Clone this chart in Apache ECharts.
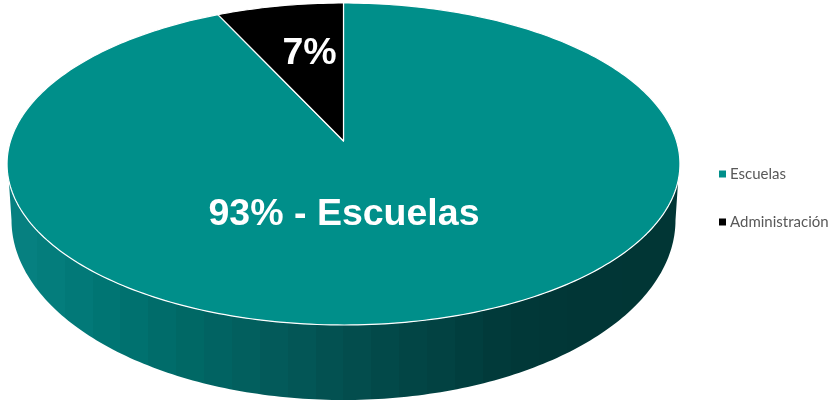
<!DOCTYPE html>
<html>
<head>
<meta charset="utf-8">
<style>html,body{margin:0;padding:0;background:#fff}#c{width:838px;height:404px}</style>
<script src="https://cdn.jsdelivr.net/npm/echarts@6/dist/echarts.min.js"></script>
</head>
<body>
<div id="c"></div>
<script>
const categories = ['Escuelas', 'Administración'];
const values = [93, 7];
const sliceLabels = ['93% - Escuelas', '7%'];
const sliceColors = ['#008F8A', '#000000'];
const wallKeyShades = ['#068080', '#007674', '#006966', '#035C5C', '#034F4F', '#024444', '#013939', '#013636', '#013635'];

const LABEL_SPOTS = [[344, 214.5], [309.5, 54]];
const TOP = {cx: 343.5, yTop: 3, yBottom: 325, yApex: 141, persp: 1 / 7, width: 333};
const BASE = {cx: 343.5, cy: 220, rx: 332, ry: 180};
const total = values.reduce((a, b) => a + b, 0);

function rimPoint(frac) {
  const t = frac * 2 * Math.PI, u = Math.sin(t), v = Math.cos(t);
  const a = (TOP.yTop * (1 + TOP.persp) - TOP.yApex);
  const w = 1 + TOP.persp * v;
  return [TOP.cx + TOP.width * u / w, (a * v + TOP.yApex) / w];
}
function topSlice(start, share) {
  const pts = [[TOP.cx, TOP.yApex]];
  const n = Math.max(12, Math.round(share * 360));
  for (let i = 0; i <= n; i++) pts.push(rimPoint(start + share * i / n));
  return pts;
}
function wallPoints() {
  const pts = [];
  const upper = 6 * Math.PI / 180;
  const yr = 161, xr = 336.5, yc = 164;
  for (let i = 0; i <= 180; i++) {
    const p = upper + (Math.PI - 2 * upper) * i / 180;
    pts.push([TOP.cx + xr * Math.cos(p), yc + yr * Math.sin(p)]);
  }
  for (let i = 180; i >= 0; i--) {
    const p = (Math.PI) * i / 180;
    pts.push([BASE.cx + BASE.rx * Math.cos(p), BASE.cy + BASE.ry * Math.sin(p)]);
  }
  return pts;
}
function hex(c){return [1,3,5].map(i=>parseInt(c.substr(i,2),16));}
function wallGradient() {
  const bands = 24, stops = [], k = wallKeyShades.length - 1;
  for (let b = 0; b < bands; b++) {
    const f = b / (bands - 1) * k, i = Math.min(Math.floor(f), k - 1), m = f - i;
    const A = hex(wallKeyShades[i]), B = hex(wallKeyShades[i + 1]);
    const col = 'rgb(' + A.map((x, j) => Math.round(x + (B[j] - x) * m)).join(',') + ')';
    stops.push({offset: b / bands, color: col}, {offset: (b + 1) / bands, color: col});
  }
  return new echarts.graphic.LinearGradient(0, 0, 1, 0, stops);
}
function renderSlice(idx) {
  return function (params, api) {
    const start = api.value(0) / total, share = api.value(1) / total;
    const children = [];
    if (idx === 0) {
      children.push({type: 'polygon', shape: {points: wallPoints()}, style: {fill: wallGradient(), stroke: null}, silent: true});
    }
    children.push({type: 'polygon', shape: {points: topSlice(start, share)},
      style: {fill: sliceColors[idx], stroke: '#ffffff', lineWidth: 1.2, lineJoin: 'round'}});
    children.push({type: 'text', x: LABEL_SPOTS[idx][0], y: LABEL_SPOTS[idx][1], z2: 10, silent: true,
      style: {text: sliceLabels[idx], fill: '#ffffff', font: 'bold 37.5px "Liberation Sans", Arial, sans-serif', align: 'center', verticalAlign: 'middle'}});
    return {type: 'group', children};
  };
}
let running = 0;
const series = categories.map((name, i) => {
  const s = {type: 'custom', name, coordinateSystem: 'none', renderItem: renderSlice(i),
    itemStyle: {color: sliceColors[i]}, animation: false,
    data: [{name, value: [running, values[i]]}]};
  running += values[i];
  return s;
});
const chart = echarts.init(document.getElementById('c'), null, {renderer: 'canvas'});
chart.setOption({
  animation: false,
  backgroundColor: '#ffffff',
  tooltip: {show: false},
  legend: {
    orient: 'vertical', left: 714, top: 160, icon: 'rect', itemWidth: 7, itemHeight: 7, itemGap: 30,
    data: categories, selectedMode: false,
    textStyle: {color: '#595959', fontFamily: 'Lato, sans-serif', fontSize: 15, padding: [0, 0, 0, -1], height: 18, lineHeight: 18}
  },
  series
});
</script>
</body>
</html>
